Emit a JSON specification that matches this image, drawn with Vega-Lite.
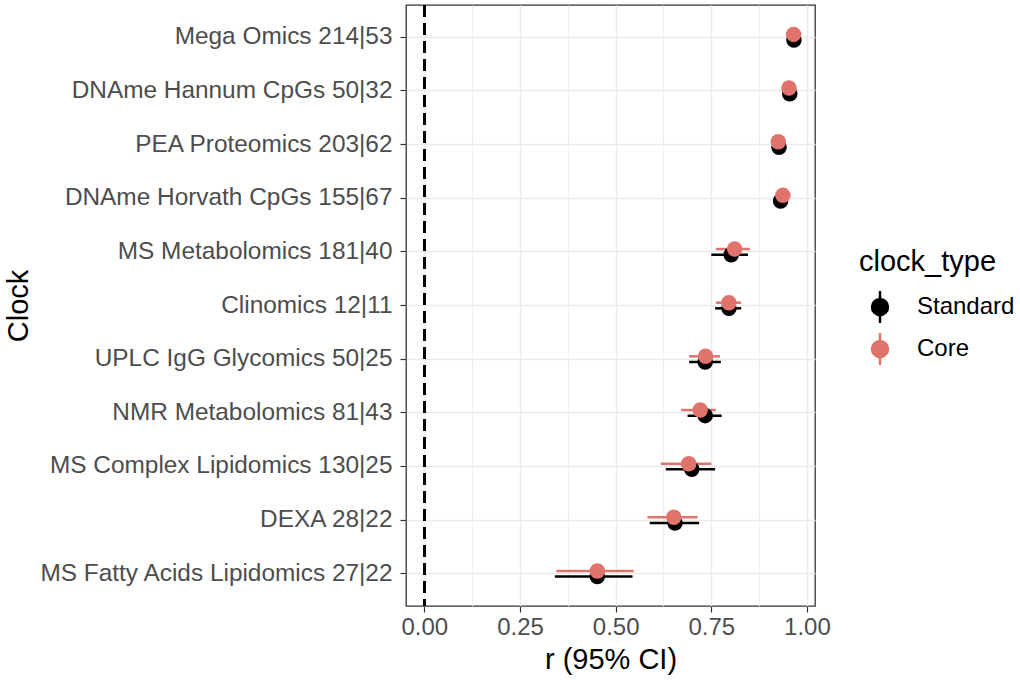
{
  "$schema": "https://vega.github.io/schema/vega-lite/v6.json",
  "width": 409,
  "height": 601,
  "autosize": "none",
  "padding": {"left": 406, "top": 5, "right": 205, "bottom": 78},
  "background": "white",
  "data": {
    "values": [
      {"clock": "Mega Omics 214|53", "clock_type": "Standard", "r": 0.966, "lo": 0.957, "hi": 0.973},
      {"clock": "DNAme Hannum CpGs 50|32", "clock_type": "Standard", "r": 0.955, "lo": 0.940, "hi": 0.966},
      {"clock": "PEA Proteomics 203|62", "clock_type": "Standard", "r": 0.927, "lo": 0.910, "hi": 0.941},
      {"clock": "DNAme Horvath CpGs 155|67", "clock_type": "Standard", "r": 0.931, "lo": 0.915, "hi": 0.945},
      {"clock": "MS Metabolomics 181|40", "clock_type": "Standard", "r": 0.802, "lo": 0.750, "hi": 0.846},
      {"clock": "Clinomics 12|11", "clock_type": "Standard", "r": 0.796, "lo": 0.760, "hi": 0.828},
      {"clock": "UPLC IgG Glycomics 50|25", "clock_type": "Standard", "r": 0.734, "lo": 0.692, "hi": 0.775},
      {"clock": "NMR Metabolomics 81|43", "clock_type": "Standard", "r": 0.734, "lo": 0.688, "hi": 0.777},
      {"clock": "MS Complex Lipidomics 130|25", "clock_type": "Standard", "r": 0.699, "lo": 0.631, "hi": 0.760},
      {"clock": "DEXA 28|22", "clock_type": "Standard", "r": 0.655, "lo": 0.589, "hi": 0.718},
      {"clock": "MS Fatty Acids Lipidomics 27|22", "clock_type": "Standard", "r": 0.452, "lo": 0.341, "hi": 0.544},
      {"clock": "Mega Omics 214|53", "clock_type": "Core", "r": 0.965, "lo": 0.956, "hi": 0.972},
      {"clock": "DNAme Hannum CpGs 50|32", "clock_type": "Core", "r": 0.953, "lo": 0.938, "hi": 0.964},
      {"clock": "PEA Proteomics 203|62", "clock_type": "Core", "r": 0.925, "lo": 0.908, "hi": 0.939},
      {"clock": "DNAme Horvath CpGs 155|67", "clock_type": "Core", "r": 0.937, "lo": 0.922, "hi": 0.950},
      {"clock": "MS Metabolomics 181|40", "clock_type": "Core", "r": 0.811, "lo": 0.762, "hi": 0.851},
      {"clock": "Clinomics 12|11", "clock_type": "Core", "r": 0.796, "lo": 0.762, "hi": 0.828},
      {"clock": "UPLC IgG Glycomics 50|25", "clock_type": "Core", "r": 0.735, "lo": 0.692, "hi": 0.773},
      {"clock": "NMR Metabolomics 81|43", "clock_type": "Core", "r": 0.721, "lo": 0.671, "hi": 0.762},
      {"clock": "MS Complex Lipidomics 130|25", "clock_type": "Core", "r": 0.691, "lo": 0.618, "hi": 0.750},
      {"clock": "DEXA 28|22", "clock_type": "Core", "r": 0.652, "lo": 0.583, "hi": 0.714},
      {"clock": "MS Fatty Acids Lipidomics 27|22", "clock_type": "Core", "r": 0.452, "lo": 0.345, "hi": 0.547}
    ]
  },
  "encoding": {
    "y": {
      "field": "clock",
      "type": "nominal",
      "sort": null,
      "title": "Clock",
      "scale": {"paddingInner": 0.79, "paddingOuter": 0.495},
      "axis": {
        "domain": false,
        "grid": true,
        "gridColor": "#EBEBEB",
        "gridWidth": 1.5,
        "ticks": true,
        "tickColor": "#333333",
        "tickSize": 6,
        "tickWidth": 1.2,
        "labelFontSize": 24.4,
        "labelColor": "#4D4D4D",
        "labelPadding": 8,
        "labelLimit": 420,
        "titleFontSize": 29,
        "titleFontWeight": "normal",
        "titleColor": "black",
        "titleX": -388,
        "titleBaseline": "middle",
        "titleAnchor": "middle"
      }
    },
    "yOffset": {
      "field": "clock_type",
      "type": "nominal",
      "scale": {"domain": ["Core", "Standard"]}
    },
    "color": {
      "field": "clock_type",
      "type": "nominal",
      "title": "clock_type",
      "scale": {"domain": ["Standard", "Core"], "range": ["black", "#E0736B"]},
      "legend": {
        "orient": "none",
        "legendX": 453,
        "legendY": 243,
        "symbolType": "M -1,0 A 1,1 0 1,1 1,0 A 1,1 0 1,1 -1,0 Z M 0,-2 L 0,2",
        "symbolSize": 256,
        "symbolStrokeWidth": 2.5,
        "symbolOpacity": 1,
        "symbolOffset": 9,
        "labelFontSize": 24,
        "labelColor": "black",
        "labelOffset": 25,
        "titleFontSize": 29,
        "titleFontWeight": "normal",
        "titleColor": "black",
        "titlePadding": 18,
        "rowPadding": 0,
        "encode": {
          "symbols": {"update": {
            "size": {"value": 256},
            "stroke": {"scale": "color", "field": "value"},
            "fill": {"scale": "color", "field": "value"}
          }}
        }
      }
    }
  },
  "layer": [
    {
      "mark": {"type": "rule", "strokeDash": [12, 6], "strokeWidth": 2, "color": "black"},
      "encoding": {
        "x": {"datum": 0, "type": "quantitative"},
        "y": null,
        "yOffset": null,
        "color": null
      }
    },
    {
      "mark": {"type": "rule", "strokeWidth": 2.5},
      "encoding": {
        "x": {
          "field": "lo",
          "type": "quantitative",
          "title": "r (95% CI)",
          "scale": {"domain": [-0.048, 1.021], "nice": false, "zero": false},
          "axis": {
            "values": [0, 0.125, 0.25, 0.375, 0.5, 0.625, 0.75, 0.875, 1],
            "labelExpr": "datum.value % 0.25 == 0 ? format(datum.value, '.2f') : ''",
            "domain": false,
            "grid": true,
            "gridColor": "#EBEBEB",
            "gridWidth": {"condition": {"test": "datum.value % 0.25 == 0", "value": 1.5}, "value": 0.8},
            "tickColor": "#333333",
            "tickSize": {"condition": {"test": "datum.value % 0.25 == 0", "value": 6}, "value": 0},
            "tickWidth": 1.2,
            "labelFontSize": 24,
            "labelColor": "#4D4D4D",
            "labelPadding": 3,
            "titleFontSize": 29,
            "titleFontWeight": "normal",
            "titleColor": "black",
            "titlePadding": 6
          }
        },
        "x2": {"field": "hi"}
      }
    },
    {
      "mark": {"type": "point", "filled": true, "opacity": 1, "size": 240, "shape": "circle"},
      "encoding": {
        "x": {"field": "r", "type": "quantitative"}
      }
    }
  ],
  "config": {
    "font": "Liberation Sans",
    "view": {"stroke": "#333333", "strokeWidth": 1.3}
  }
}
